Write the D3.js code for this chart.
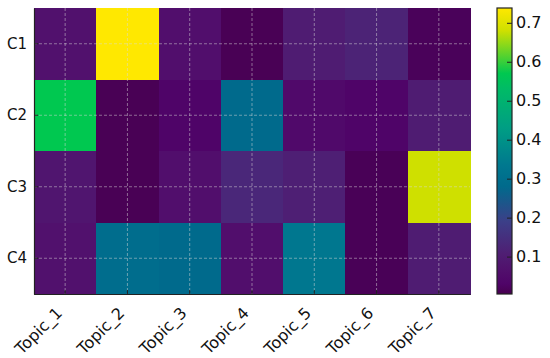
<!DOCTYPE html>
<html>
<head>
<meta charset="utf-8">
<script src="https://cdn.jsdelivr.net/npm/d3@7"></script>
<style>
  html, body { margin: 0; padding: 0; background: #fff; }
  svg { display: block; font-family: "DejaVu Sans", sans-serif; }
</style>
</head>
<body>
<svg id="chart" width="550" height="358"></svg>
<script>
// ---- data ----
const rows = ["C1", "C2", "C3", "C4"];
const topics = ["Topic_1", "Topic_2", "Topic_3", "Topic_4", "Topic_5", "Topic_6", "Topic_7"];
const valuesC1 = [0.07, 0.738, 0.06, 0.01, 0.10, 0.12, 0.015];
const valuesC2 = [0.57, 0.01, 0.03, 0.28, 0.045, 0.03, 0.10];
const valuesC3 = [0.08, 0.01, 0.06, 0.13, 0.11, 0.012, 0.68];
const valuesC4 = [0.07, 0.29, 0.28, 0.06, 0.33, 0.012, 0.10];
const colorbarTicks = [0.1, 0.2, 0.3, 0.4, 0.5, 0.6, 0.7];
const valueMin = 0.004, valueMax = 0.738;
// colormap stops (value -> colour), a saturated viridis as seen in the reference
const cmapValues = [0.004, 0.03, 0.063, 0.107, 0.19, 0.28, 0.334, 0.43, 0.53, 0.57, 0.68, 0.738];
const cmapColors = ["#47004f", "#4f0468", "#510f6c", "#4f1e73", "#3c3f88", "#006a8c", "#00788f", "#009e84", "#00bb66", "#00c850", "#cfe000", "#ffe800"];

const matrix = [valuesC1, valuesC2, valuesC3, valuesC4];
const cells = [];
matrix.forEach((vals, ri) => vals.forEach((v, ci) => cells.push({row: rows[ri], topic: topics[ci], value: v})));

// ---- layout ----
const plot = {left: 34, right: 470, top: 8, bottom: 294};
const cbar = {left: 497, right: 512, top: 8, bottom: 294};
const FONT = "'DejaVu Sans', sans-serif";

const svg = d3.select("#chart");

const x = d3.scaleBand().domain(topics).range([plot.left, plot.right]).padding(0);
const y = d3.scaleBand().domain(rows).range([plot.top, plot.bottom]).padding(0);

const color = d3.scaleLinear().domain(cmapValues).range(cmapColors)
  .interpolate(d3.interpolateRgb).clamp(true);

// cells
svg.append("g")
  .selectAll("rect")
  .data(cells)
  .join("rect")
  .attr("x", d => x(d.topic))
  .attr("y", d => y(d.row))
  .attr("width", x.bandwidth() + 0.5)
  .attr("height", y.bandwidth() + 0.5)
  .attr("fill", d => color(d.value))
  .attr("shape-rendering", "crispEdges");

// grid lines (dashed, at tick positions)
const grid = svg.append("g")
  .attr("stroke", "#d8d8d8")
  .attr("stroke-opacity", 0.55)
  .attr("stroke-width", 0.9)
  .attr("stroke-dasharray", "3,2");
grid.selectAll("line.v")
  .data(topics)
  .join("line")
  .attr("class", "v")
  .attr("x1", d => x(d) + x.bandwidth() / 2)
  .attr("x2", d => x(d) + x.bandwidth() / 2)
  .attr("y1", plot.top)
  .attr("y2", plot.bottom);
grid.selectAll("line.h")
  .data(rows)
  .join("line")
  .attr("class", "h")
  .attr("y1", d => y(d) + y.bandwidth() / 2)
  .attr("y2", d => y(d) + y.bandwidth() / 2)
  .attr("x1", plot.left)
  .attr("x2", plot.right);

// axes
const xAxis = d3.axisBottom(x).tickSizeInner(-4).tickSizeOuter(0).tickPadding(8);
const gx = svg.append("g")
  .attr("transform", `translate(0,${plot.bottom})`)
  .call(xAxis);
gx.attr("font-size", null).attr("font-family", null);
gx.select(".domain").attr("stroke", "#222").attr("stroke-width", 1.2);
gx.selectAll(".tick line").attr("stroke", "#222").attr("stroke-width", 1);
gx.selectAll(".tick text")
  .style("font-size", "16px")
  .style("font-family", FONT)
  .attr("fill", "#111")
  .attr("text-anchor", "end")
  .attr("dy", "0.35em")
  .attr("y", 0)
  .attr("x", 0)
  .attr("transform", "translate(-6,16) rotate(-45)");

const yAxis = d3.axisLeft(y).tickSizeInner(-4).tickSizeOuter(0).tickPadding(7);
const gy = svg.append("g")
  .attr("transform", `translate(${plot.left},0)`)
  .call(yAxis);
gy.attr("font-size", null).attr("font-family", null);
gy.select(".domain").attr("stroke", "#222").attr("stroke-width", 1.2);
gy.selectAll(".tick line").attr("stroke", "#222").attr("stroke-width", 1);
gy.selectAll(".tick text")
  .style("font-size", "15px")
  .style("font-family", FONT)
  .attr("fill", "#111");

// colorbar
const defs = svg.append("defs");
const grad = defs.append("linearGradient")
  .attr("id", "cbgrad")
  .attr("x1", "0").attr("y1", "1").attr("x2", "0").attr("y2", "0");
cmapValues.forEach((v, i) => {
  grad.append("stop")
    .attr("offset", (v - valueMin) / (valueMax - valueMin))
    .attr("stop-color", cmapColors[i]);
});
svg.append("rect")
  .attr("x", cbar.left)
  .attr("y", cbar.top)
  .attr("width", cbar.right - cbar.left)
  .attr("height", cbar.bottom - cbar.top)
  .attr("fill", "url(#cbgrad)")
  .attr("stroke", "#222")
  .attr("stroke-width", 1.2);

const cy = d3.scaleLinear().domain([valueMin, valueMax]).range([cbar.bottom, cbar.top]);
const cAxis = d3.axisRight(cy).tickValues(colorbarTicks).tickFormat(d3.format(".1f"))
  .tickSizeInner(-5).tickSizeOuter(0).tickPadding(4);
const gc = svg.append("g")
  .attr("transform", `translate(${cbar.right},0)`)
  .call(cAxis);
gc.attr("font-size", null).attr("font-family", null);
gc.select(".domain").remove();
gc.selectAll(".tick line").attr("stroke", "#222").attr("stroke-width", 1);
gc.selectAll(".tick text")
  .style("font-size", "16px")
  .style("font-family", FONT)
  .attr("fill", "#111");
</script>
</body>
</html>
